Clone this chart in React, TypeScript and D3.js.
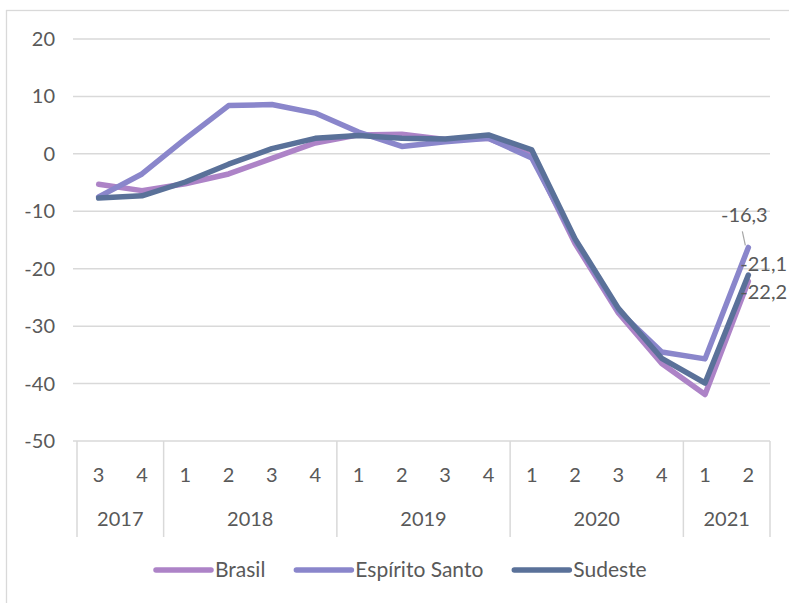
import React from 'react'
import * as d3 from 'd3'

const quarters = ['3', '4', '1', '2', '3', '4', '1', '2', '3', '4', '1', '2', '3', '4', '1', '2']
const years = ['2017', '2018', '2019', '2020', '2021']
const yearSpans = [2, 4, 4, 4, 2]

const brasil = [-5.3, -6.4, -5.2, -3.5, -0.8, 1.9, 3.3, 3.4, 2.5, 2.7, -0.3, -15.6, -27.7, -36.5, -41.9, -22.2]
const espiritoSanto = [-7.5, -3.5, 2.6, 8.4, 8.6, 7.1, 3.8, 1.3, 2.1, 2.7, -0.7, -15.0, -27.3, -34.5, -35.7, -16.3]
const sudeste = [-7.7, -7.3, -4.9, -1.8, 0.9, 2.7, 3.2, 2.7, 2.6, 3.3, 0.7, -14.8, -26.9, -35.6, -39.9, -21.1]

const yTicks = [20, 10, 0, -10, -20, -30, -40, -50]

const seriesNames = ['Brasil', 'Espírito Santo', 'Sudeste']
const seriesColors = ['#ad83c7', '#8a86cb', '#5a7199']

const FONT = 'Lato, "Open Sans", sans-serif'
const TEXT = '#595959'
const GRID = '#d9d9d9'

const App = () => {
  const svgRef = React.useRef(null)
  const width = 789
  const height = 603

  React.useEffect(() => {
    const svg = d3.select(svgRef.current)
    svg.selectAll('*').remove()

    const left = 77
    const right = 770
    const top = 39
    const bottom = 441

    const x = d3.scaleBand()
      .domain(quarters.map((_, i) => String(i)))
      .range([left, right])
    const y = d3.scaleLinear().domain([-50, 20]).range([bottom, top])

    // chart border
    svg.append('rect')
      .attr('x', 6.5).attr('y', 10.5)
      .attr('width', 800).attr('height', 620)
      .attr('fill', 'white')
      .attr('stroke', GRID).attr('stroke-width', 1.3)

    // gridlines
    svg.append('g')
      .selectAll('line')
      .data(yTicks)
      .join('line')
      .attr('x1', left - 4).attr('x2', right)
      .attr('y1', (d) => y(d)).attr('y2', (d) => y(d))
      .attr('stroke', GRID).attr('stroke-width', 1.5)

    svg.append('g')
      .style('font', `20px ${FONT}`)
      .attr('fill', TEXT)
      .attr('text-anchor', 'end')
      .selectAll('text')
      .data(yTicks)
      .join('text')
      .attr('x', 55)
      .attr('y', (d) => y(d))
      .attr('dy', '0.35em')
      .text((d) => d)

    // category axis: year separators
    const bounds = [0]
    yearSpans.forEach((n) => bounds.push(bounds[bounds.length - 1] + n))
    const bx = (i) => left + x.step() * i
    svg.append('g')
      .selectAll('line')
      .data(bounds)
      .join('line')
      .attr('x1', (d) => bx(d)).attr('x2', (d) => bx(d))
      .attr('y1', bottom).attr('y2', 537)
      .attr('stroke', GRID).attr('stroke-width', 1.5)

    svg.append('g')
      .style('font', `20px ${FONT}`)
      .attr('fill', TEXT)
      .attr('text-anchor', 'middle')
      .selectAll('text')
      .data(quarters)
      .join('text')
      .attr('x', (_, i) => x(String(i)) + x.bandwidth() / 2)
      .attr('y', 475)
      .attr('dy', '0.35em')
      .text((d) => d)

    svg.append('g')
      .style('font', `20px ${FONT}`)
      .attr('fill', TEXT)
      .attr('text-anchor', 'middle')
      .selectAll('text')
      .data(years)
      .join('text')
      .attr('x', (_, i) => (bx(bounds[i]) + bx(bounds[i + 1])) / 2)
      .attr('y', 519)
      .attr('dy', '0.35em')
      .text((d) => d)

    // lines
    const allSeries = [brasil, espiritoSanto, sudeste]
    const line = d3.line()
      .x((_, i) => x(String(i)) + x.bandwidth() / 2)
      .y((d) => y(d))

    svg.append('g')
      .selectAll('path')
      .data(allSeries)
      .join('path')
      .attr('d', (d) => line(d))
      .attr('fill', 'none')
      .attr('stroke', (_, i) => seriesColors[i])
      .attr('stroke-width', 5.5)
      .attr('stroke-linejoin', 'round')
      .attr('stroke-linecap', 'round')

    // end labels
    const last = quarters.length - 1
    const lx = x(String(last)) + x.bandwidth() / 2
    const fmt = (v) => String(v).replace('.', ',')
    const labels = svg.append('g')
      .style('font', `20px ${FONT}`)
      .attr('fill', TEXT)
    const esY = y(espiritoSanto[last])
    labels.append('text')
      .attr('x', lx - 4).attr('y', esY - 32)
      .attr('dy', '0.35em')
      .attr('text-anchor', 'middle')
      .text(fmt(espiritoSanto[last]))
    labels.append('line')
      .attr('x1', lx - 6).attr('y1', esY - 16)
      .attr('x2', lx - 3).attr('y2', esY - 2)
      .attr('stroke', '#a6a6a6').attr('stroke-width', 1.2)
    labels.append('text')
      .attr('x', lx - 8).attr('y', y(sudeste[last]) - 11)
      .attr('dy', '0.35em')
      .text(fmt(sudeste[last]))
    labels.append('text')
      .attr('x', lx - 8).attr('y', y(brasil[last]) + 11)
      .attr('dy', '0.35em')
      .text(fmt(brasil[last]))

    // legend
    const legend = svg.append('g')
      .style('font', `21px ${FONT}`)
      .attr('fill', TEXT)
    let cx = 156
    const ly = 570
    seriesNames.forEach((name, i) => {
      legend.append('line')
        .attr('x1', cx).attr('x2', cx + 55)
        .attr('y1', ly).attr('y2', ly)
        .attr('stroke', seriesColors[i])
        .attr('stroke-width', 5.5)
        .attr('stroke-linecap', 'round')
      const t = legend.append('text')
        .attr('x', cx + 59).attr('y', ly)
        .attr('dy', '0.35em')
        .text(name)
      const w = t.node().getComputedTextLength()
      cx = cx + 59 + w + 31
    })
  }, [])

  return (
    <svg
      ref={svgRef}
      width={width}
      height={height}
      style={{ position: 'absolute', left: 0, top: 0, background: 'white' }}
    />
  )
}

export default App
